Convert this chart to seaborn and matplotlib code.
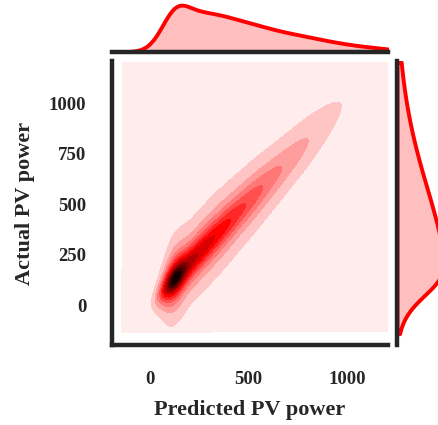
import numpy as np
import pandas as pd
import matplotlib
matplotlib.use("Agg")
import matplotlib.pyplot as plt
import seaborn as sns

# ── values ────────────────────────────────────────────────────────────────
# predicted PV power bins and relative number of samples per bin
predicted_bins = [-30, 10, 50, 90, 130, 170, 210, 250, 290, 330, 370, 410, 450,
                  490, 530, 570, 610, 650, 690, 730, 770, 810, 850, 890, 930,
                  970, 1010, 1050, 1090, 1130, 1170, 1210, 1250]
bin_share = [3, 27, 180, 665, 1350, 691, 713, 696, 688, 658, 638, 598, 542,
             515, 485, 438, 395, 368, 330, 306, 282, 255, 223, 196, 171,
             145, 124, 104, 89, 74, 60, 48, 35]
# mean bias (actual - predicted) and relative error spread per bin
bin_bias = [0, 0, 2, 3, 4, 6, 9, 10, 11, 12, 12, 13, 13, 13, 13, 13, 12, 12,
            12, 12, 12, 12, 13, 14, 15, 16, 17, 18, 18, 18, 18, 18, 18]
bin_spread = [1.17, 1.17, 1.17, 1.24, 1.3, 1.4, 1.5, 1.56, 1.63, 1.68, 1.73,
              1.77, 1.81, 1.86, 1.91, 1.96, 2.02, 2.08, 2.15, 2.21, 2.29, 2.37,
              2.44, 2.52, 2.6, 2.68, 2.76, 2.83, 2.91, 2.99, 2.99, 2.99, 2.99]
# forecast error steps and their relative frequency
error_steps = [-200, -190, -180, -170, -160, -150, -140, -130, -120, -110, -100,
               -90, -80, -70, -60, -50, -40, -30, -20, -10, 0, 10, 20, 30, 40,
               50, 60, 70, 80, 90, 100, 110, 120, 130, 140, 150, 160, 170, 180,
               190, 200]
error_share = [35, 55, 72, 80, 89, 100, 113, 129, 148, 171, 200, 236, 281, 338,
               410, 500, 610, 735, 862, 962, 1000, 962, 862, 735, 610, 500, 410,
               338, 281, 236, 200, 171, 148, 129, 113, 100, 89, 80, 72, 55, 35]

x_ticks = [0, 500, 1000]
y_ticks = [0, 250, 500, 750, 1000]

N_BANDS = 13
GRID_CLIP = ((-142, 1205), (-134, 1205))
JOINT_BW = 0.34
MARG_BW = 0.75

rows = []
for pred, share, bias, spread in zip(predicted_bins, bin_share, bin_bias, bin_spread):
    for err, err_share in zip(error_steps, error_share):
        rows.append((pred, pred + bias + spread * err, share * err_share))
df = pd.DataFrame(rows, columns=["Predicted PV power", "Actual PV power", "count"])

sns.set_style("white")
plt.rcParams["font.family"] = ["Liberation Serif", "DejaVu Serif"]
plt.rcParams["font.weight"] = "bold"
plt.rcParams["axes.labelweight"] = "bold"
plt.rcParams["axes.linewidth"] = 3.2

# white -> red -> black, like the old jointplot(kind="kde")
cmap = sns.blend_palette(["#ffffff", "#ff0000", "#000000"], as_cmap=True)

# kdeplot wants iso-proportion levels; probe once so the drawn levels are
# equally spaced in density (the old seaborn look)
probe_props = np.linspace(0.002, 1, 250)
fig_p, ax_p = plt.subplots()
sns.kdeplot(data=df, x="Predicted PV power", y="Actual PV power", weights="count",
            bw_adjust=JOINT_BW, clip=GRID_CLIP, levels=probe_props, ax=ax_p)
dens = ax_p.collections[0].levels
plt.close(fig_p)
props = np.interp(np.linspace(0, dens[-1], N_BANDS + 1), dens, probe_props)
props[0], props[-1] = 0, 1

g = sns.JointGrid(data=df, x="Predicted PV power", y="Actual PV power",
                  height=4.25, ratio=5)
# lowest band covers the whole evaluation grid (density underflows far off the ridge)
g.ax_joint.fill_between(GRID_CLIP[0], *GRID_CLIP[1], color=cmap(0.5 / N_BANDS),
                        lw=0, zorder=0.5)
g.plot_joint(sns.kdeplot, weights=df["count"], fill=True, cmap=cmap,
             levels=props, bw_adjust=JOINT_BW, clip=GRID_CLIP)
g.plot_marginals(sns.kdeplot, weights=df["count"], color="red", fill=True,
                 alpha=0.25, linewidth=2.8, bw_adjust=MARG_BW, clip=GRID_CLIP[0])

fig = g.figure
fig.set_size_inches(4.38, 4.25)
g.ax_joint.set_position([0.2557, 0.1882, 0.6301, 0.6682])
g.ax_marg_x.set_position([0.2557, 0.8784, 0.6301, 0.1216])
g.ax_marg_y.set_position([0.9064, 0.1882, 0.1187, 0.6682])

g.ax_joint.set_xlim(-192, 1205)
g.ax_joint.set_ylim(-198, 1210)
g.ax_marg_x.margins(y=0.11)
g.ax_marg_y.margins(x=0.11)

g.ax_joint.set_xticks(x_ticks)
g.ax_joint.set_yticks(y_ticks)
g.ax_joint.tick_params(axis="x", length=0, pad=19, labelsize=13.5)
g.ax_joint.tick_params(axis="y", length=0, pad=18.5, labelsize=13.5)
g.ax_joint.set_xlabel("Predicted PV power", fontsize=16, labelpad=8.5)
g.ax_joint.set_ylabel("Actual PV power", fontsize=16, labelpad=10)

fig.savefig("out.png", dpi=100)
